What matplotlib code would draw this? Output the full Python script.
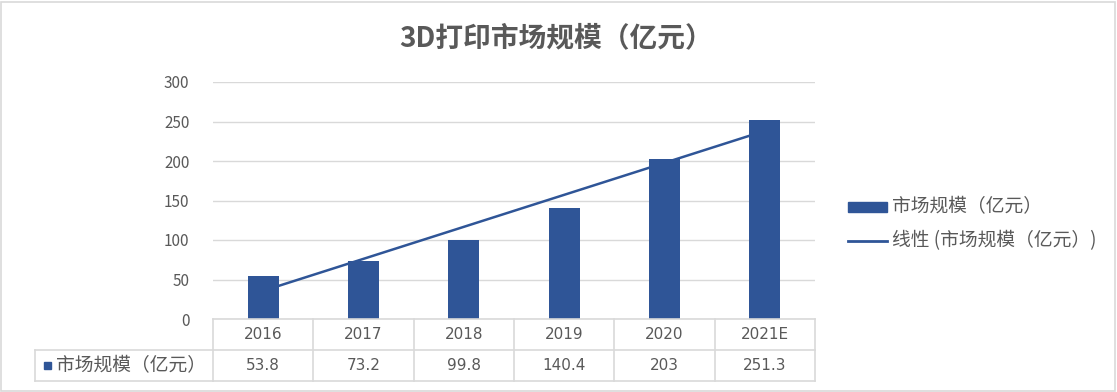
import numpy as np
import matplotlib.pyplot as plt
from matplotlib.patches import Rectangle
from matplotlib.lines import Line2D

plt.rcParams['font.family'] = ['Noto Sans CJK SC', 'DejaVu Sans']

years = ["2016", "2017", "2018", "2019", "2020", "2021E"]
market = [53.8, 73.2, 99.8, 140.4, 203, 251.3]
table_vals = ["53.8", "73.2", "99.8", "140.4", "203", "251.3"]
series_name = "市场规模（亿元）"
trend_name = "线性 (市场规模（亿元）)"
title = "3D打印市场规模（亿元）"

bar_color = "#2F5597"
grid_color = "#D9D9D9"
text_color = "#595959"

W, H = 1117, 392
fig = plt.figure(figsize=(W / 100, H / 100), dpi=100)
ax = fig.add_axes([213 / W, 1 - 319 / H, (815 - 213) / W, (319 - 82) / H])

x = np.arange(len(years))
ax.bar(x, market, width=0.31, color=bar_color, zorder=2)

# linear trendline (Excel style)
k, b = np.polyfit(x, market, 1)
ax.plot(x, k * x + b, color=bar_color, lw=1.8, zorder=3)

ax.set_xlim(-0.5, len(years) - 0.5)
ax.set_ylim(0, 300)
ax.set_yticks(range(0, 301, 50))
ax.yaxis.grid(True, color=grid_color, lw=1)
ax.set_axisbelow(True)
ax.tick_params(axis='y', length=0, pad=17, labelsize=11, labelcolor=text_color)
ax.tick_params(axis='x', length=0, labelbottom=False)
for s in ax.spines.values():
    s.set_visible(False)

# data table below the axes
tr = ax.get_xaxis_transform()
rh = 31 / (319 - 82)
lc = dict(color=grid_color, lw=1.2, clip_on=False, transform=tr)
for yy in [0, -rh, -2 * rh]:
    ax.add_line(Line2D([-0.5, len(years) - 0.5], [yy, yy], **lc))
left_x = -0.5 - (213 - 36) / 100
ax.add_line(Line2D([left_x, -0.5], [-rh, -rh], **lc))
ax.add_line(Line2D([left_x, -0.5], [-2 * rh, -2 * rh], **lc))
ax.add_line(Line2D([left_x, left_x], [-rh, -2 * rh], **lc))
for i in range(len(years) + 1):
    ax.add_line(Line2D([i - 0.5, i - 0.5], [0, -2 * rh], **lc))
for i, (yr, v) in enumerate(zip(years, table_vals)):
    ax.text(i, -rh / 2, yr, ha='center', va='center', transform=tr,
            fontsize=11, color=text_color, family=['DejaVu Sans'])
    ax.text(i, -1.5 * rh, v, ha='center', va='center', transform=tr,
            fontsize=11, color=text_color, family=['DejaVu Sans'])
fig.patches.append(Rectangle((44 / W, 1 - 369 / H), 7 / W, 7 / H,
                             transform=fig.transFigure, color=bar_color))
fig.text(56 / W, 1 - 365.5 / H, series_name, ha='left', va='center',
         fontsize=13.5, color=text_color)

fig.text(556 / W, 1 - 38 / H, title, ha='center', va='center',
         fontsize=20, fontweight='bold', color=text_color)

# legend
fig.patches.append(Rectangle((848 / W, 1 - 212 / H), 39 / W, 10 / H,
                             transform=fig.transFigure, color=bar_color))
fig.text(892 / W, 1 - 207 / H, series_name, ha='left', va='center',
         fontsize=13.5, color=text_color)
fig.lines.append(Line2D([848 / W, 887 / W], [1 - 241 / H, 1 - 241 / H],
                        transform=fig.transFigure, color=bar_color, lw=2))
fig.text(892 / W, 1 - 241 / H, trend_name, ha='left', va='center',
         fontsize=13.5, color=text_color)

fig.patches.append(Rectangle((1 / W, 1 / H), (W - 3) / W, (H - 3) / H,
                             transform=fig.transFigure, fill=False,
                             edgecolor=grid_color, lw=1.2))

fig.savefig("out.png", dpi=100)
